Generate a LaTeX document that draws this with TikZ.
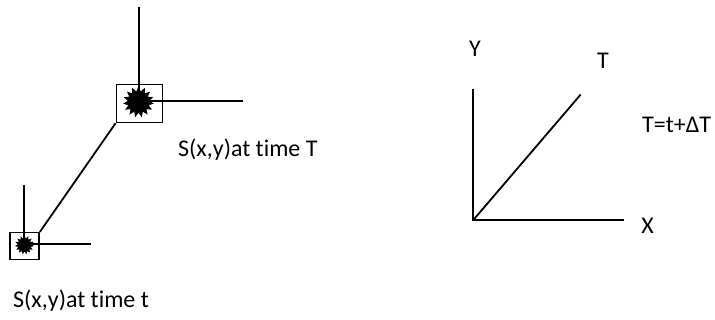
\documentclass[tikz,border=0pt]{standalone}
\usepackage{fontspec}
\setmainfont{Carlito}[Ligatures={NoCommon}]
\usetikzlibrary{shapes.geometric}
\tikzset{
  frame/.style={draw,line width=1.5pt,inner sep=0pt},
  burst/.style={star,star points=15,star point ratio=1.45,fill=black,inner sep=0pt},
  ray/.style={line width=1.8pt},
  lbl/.style={font=\fontsize{24}{28}\selectfont,inner sep=0pt}
}
\begin{document}
\begin{tikzpicture}[x=1pt,y=-1pt,line cap=butt,line join=miter]
\useasboundingbox (0,0) rectangle (715,320);
% Sygnał w chwili T (duża ramka) i w chwili t (mała ramka).
\node[frame,minimum width=46pt,minimum height=38pt] (boxT) at (139.3,103.5) {};
\node[burst,minimum size=31pt] (burstT) at (138.5,102) {};
\coordinate (crossT) at (139.3,100.7);
\coordinate (topT) at (139.3,7);
\coordinate (rightT) at (243,100.7);
\draw[ray] (topT) -- (crossT) -- (rightT);
\node[frame,minimum width=29pt,minimum height=27pt] (boxt) at (24.6,246.2) {};
\node[burst,minimum size=19pt] (burstt) at (24.5,245) {};
\coordinate (crosst) at (24,244.3);
\coordinate (topt) at (24,185);
\coordinate (rightt) at (91,244.3);
\draw[ray] (topt) -- (crosst) -- (rightt);
\draw[ray] (boxt.north east) -- (boxT.south west);
\node[lbl,anchor=base west] (labT) at (178,157) {S(x,y)at time T};
\node[lbl,anchor=base west] (labt) at (13,308) {S(x,y)at time t};
% Układ osi X, Y oraz prosta czasu T.
\coordinate (origin) at (473.3,220);
\coordinate (yend) at (473.3,89);
\coordinate (xend) at (624,220);
\coordinate (tend) at (580.7,94.5);
\draw[ray] (yend) -- (origin) -- (xend);
\draw[ray] (origin) -- (tend);
\node[lbl,anchor=base] (labY) at (475,56.7) {Y};
\node[lbl,anchor=base] (labX) at (647.5,234) {X};
\node[lbl,anchor=base] (labTT) at (603,69) {T};
\node[lbl,anchor=base west] (labeq) at (642,133) {T=t+ΔT};
\end{tikzpicture}
\end{document}
